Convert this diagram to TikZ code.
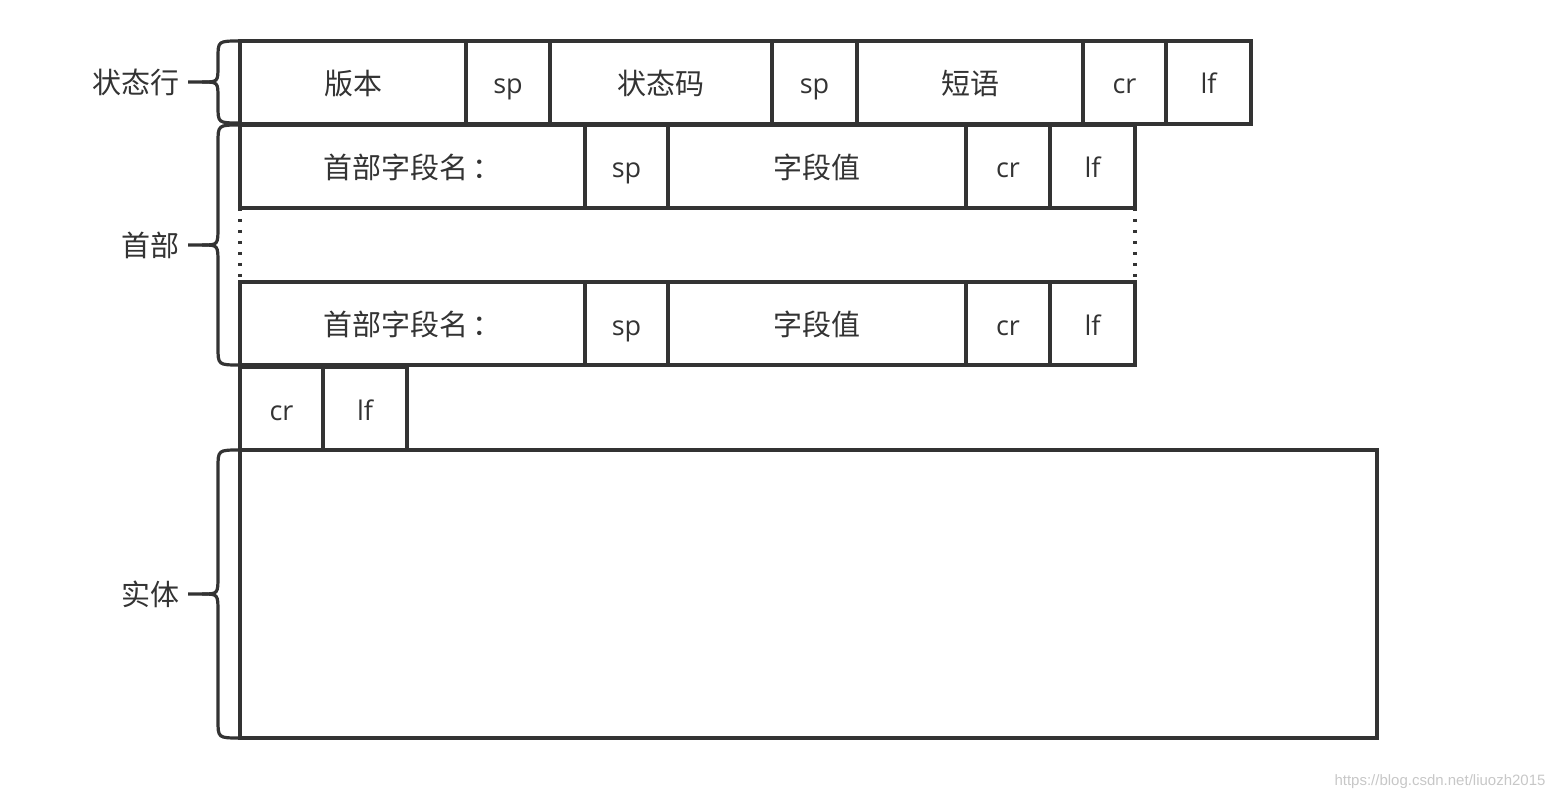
\documentclass[tikz,border=0pt]{standalone}
\usepackage{fontspec}
\setmainfont{Open Sans}
\newfontfamily\cjk{Noto Sans CJK SC}
\newfontfamily\wmfont{Liberation Sans}
\usetikzlibrary{positioning}
\definecolor{linegray}{HTML}{333333}
\tikzset{
  field/.style={draw=linegray, line width=3.2pt, minimum height=83pt, inner sep=0pt, outer sep=0pt,
    text=linegray, font=\fontsize{27}{32}\selectfont, text height=23pt, text depth=0pt},
  zh/.style={font=\cjk\fontsize{29}{34}\selectfont, text height=24pt},
  brace/.style={draw=linegray, line width=3.2pt},
  lbl/.style={text=linegray, font=\cjk\fontsize{29}{34}\selectfont, inner sep=0pt},
  gap/.style={draw=linegray, line width=3.4pt, dash pattern=on 3.4pt off 7.6pt}
}
\begin{document}
\begin{tikzpicture}[x=1pt, y=-1pt]
\useasboundingbox (0,0) rectangle (1558,802);

% 状态行
\node[field, zh, minimum width=226pt, anchor=north west] (ver) at (240,41) {版本};
\node[field, minimum width=84pt, right=0pt of ver] (sp1) {sp};
\node[field, zh, minimum width=222pt, right=0pt of sp1] (code) {状态码};
\node[field, minimum width=85pt, right=0pt of code] (sp2) {sp};
\node[field, zh, minimum width=226pt, right=0pt of sp2] (phrase) {短语};
\node[field, minimum width=83pt, right=0pt of phrase] (cr1) {cr};
\node[field, minimum width=85pt, right=0pt of cr1] (lf1) {lf};

% 首部 (第一行)
\node[field, zh, minimum width=345pt, anchor=north west] (name1) at (240,125) {首部字段名\,：};
\node[field, minimum width=83pt, right=0pt of name1] (sp3) {sp};
\node[field, zh, minimum width=298pt, right=0pt of sp3] (val1) {字段值};
\node[field, minimum width=84pt, right=0pt of val1] (cr2) {cr};
\node[field, minimum width=85pt, right=0pt of cr2] (lf2) {lf};

% 首部 (最后一行)
\node[field, zh, minimum width=345pt, anchor=north west] (name2) at (240,282) {首部字段名\,：};
\node[field, minimum width=83pt, right=0pt of name2] (sp4) {sp};
\node[field, zh, minimum width=298pt, right=0pt of sp4] (val2) {字段值};
\node[field, minimum width=84pt, right=0pt of val2] (cr3) {cr};
\node[field, minimum width=85pt, right=0pt of cr3] (lf3) {lf};

% 省略的首部行
\draw[gap] (name1.south west) -- (name2.north west);
\draw[gap] (lf2.south east) -- (lf3.north east);

% 空行
\node[field, minimum width=83pt, anchor=north west] (cr4) at (240,367) {cr};
\node[field, minimum width=84pt, right=0pt of cr4] (lf4) {lf};

% 实体
\node[field, minimum width=1137pt, minimum height=288pt, anchor=north west] (body) at (240,450) {};

% 括号
\draw[brace] (240,41) .. controls (218,41) .. (218,58) -- (218,66) .. controls (218,82) .. (202,82) -- (188,82);
\draw[brace] (202,82) .. controls (218,82) .. (218,98) -- (218,106) .. controls (218,123) .. (240,123);
\draw[brace] (240,125) .. controls (218,125) .. (218,143) -- (218,227) .. controls (218,245) .. (202,245) -- (188,245);
\draw[brace] (202,245) .. controls (218,245) .. (218,263) -- (218,347) .. controls (218,365) .. (240,365);
\draw[brace] (240,450) .. controls (218,450) .. (218,468) -- (218,576) .. controls (218,594) .. (202,594) -- (188,594);
\draw[brace] (202,594) .. controls (218,594) .. (218,612) -- (218,720) .. controls (218,738) .. (240,738);

\coordinate (tipstatus) at (188,82);
\coordinate (tiphead) at (188,245);
\coordinate (tipbody) at (188,594);
\node[lbl, left=8pt of tipstatus] (status) {状态行};
\node[lbl, left=8pt of tiphead] (head) {首部};
\node[lbl, left=8pt of tipbody] (entity) {实体};

\node[text=black!22, font=\wmfont\fontsize{15}{18}\selectfont, anchor=east] (mark) at (1549,782) {https://blog.csdn.net/liuozh2015};
\end{tikzpicture}
\end{document}
